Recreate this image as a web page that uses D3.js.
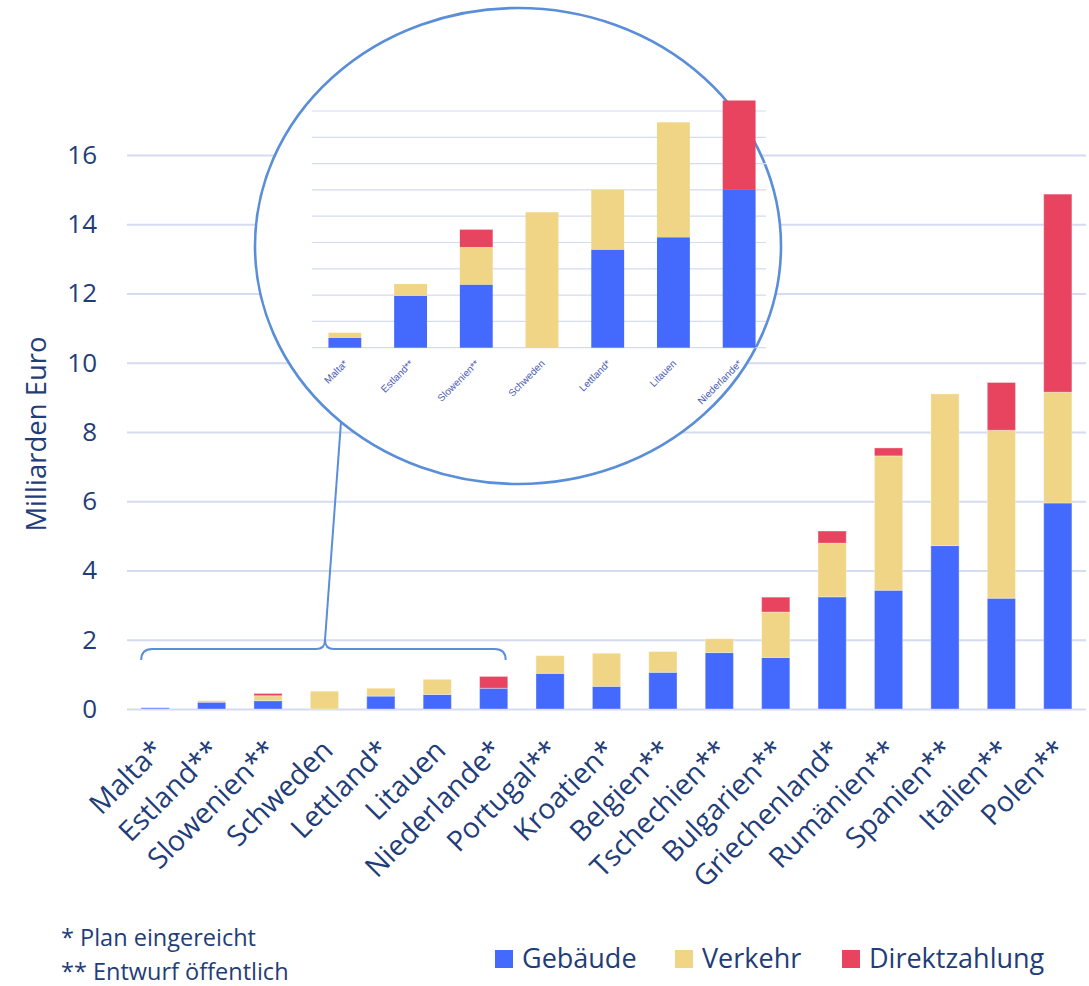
<!DOCTYPE html>
<html>
<head>
<meta charset="utf-8">
<script src="https://cdn.jsdelivr.net/npm/d3@7/dist/d3.min.js"></script>
<style>
  html, body { margin: 0; padding: 0; background: #ffffff; }
  svg { display: block; font-family: "Open Sans", "Noto Sans", sans-serif; }
</style>
</head>
<body>
<svg id="chart" width="1089" height="986"></svg>
<script>
// Klima-Sozialfonds: geplante Mittel je Mitgliedstaat (Milliarden Euro)
const categories = ["Malta*", "Estland**", "Slowenien**", "Schweden", "Lettland*", "Litauen",
  "Niederlande*", "Portugal**", "Kroatien*", "Belgien**", "Tschechien**", "Bulgarien**",
  "Griechenland*", "Rumänien**", "Spanien**", "Italien**", "Polen**"];
const gebaeude = [0.037, 0.197, 0.24, 0, 0.373, 0.42, 0.60, 1.03, 0.655, 1.06, 1.63, 1.49, 3.24, 3.43, 4.72, 3.20, 5.95];
const verkehr  = [0.02, 0.045, 0.143, 0.515, 0.227, 0.437, 0, 0.51, 0.955, 0.60, 0.40, 1.31, 1.55, 3.88, 4.38, 4.85, 3.20];
const direkt   = [0, 0, 0.066, 0, 0, 0, 0.34, 0, 0, 0, 0, 0.43, 0.35, 0.23, 0, 1.38, 5.72];

const seriesNames = ["Gebäude", "Verkehr", "Direktzahlung"];
const seriesColors = ["#4469fd", "#efd585", "#e8435f"];
const yTicks = [0, 2, 4, 6, 8, 10, 12, 14, 16];
const insetTicks = [0, 0.1, 0.2, 0.3, 0.4, 0.5, 0.6, 0.7, 0.8, 0.9];
const insetCount = 7; // the seven smallest funds, shown enlarged
const footnotes = ["* Plan eingereicht", "** Entwurf öffentlich"];
const yTitle = "Milliarden Euro";

const textColor = "#1f3d78";
const gridColor = "#d5dbf0";
const loupeColor = "#5a8ed8";
const mainFont = "Open Sans, Noto Sans, sans-serif";

const rows = categories.map((c, i) => ({
  cat: c, "Gebäude": gebaeude[i], "Verkehr": verkehr[i], "Direktzahlung": direkt[i]
}));
const stacked = d3.stack().keys(seriesNames)(rows);
const color = d3.scaleOrdinal().domain(seriesNames).range(seriesColors);

const svg = d3.select("#chart");

// ---------- main chart ----------
const x = d3.scaleBand().domain(categories).range([127, 1086]).paddingInner(0.5).paddingOuter(0.25);
const y = d3.scaleLinear().domain([0, 16]).range([709, 155]);

const yAxis = svg.append("g")
  .attr("transform", `translate(${x.range()[0]},0)`)
  .call(d3.axisLeft(y).tickValues(yTicks).tickSize(-(x.range()[1] - x.range()[0])).tickPadding(30).tickFormat(d3.format("d")));
yAxis.attr("font-family", mainFont);
yAxis.select(".domain").remove();
yAxis.selectAll(".tick line").attr("stroke", gridColor).attr("stroke-width", 2);
yAxis.selectAll(".tick text").attr("fill", textColor).attr("font-size", 26);

svg.append("text")
  .attr("transform", `translate(46,${(y(6) + y(10)) / 2 + 2}) rotate(-90)`)
  .attr("text-anchor", "middle")
  .attr("fill", textColor)
  .attr("font-size", 27.5)
  .text(yTitle);

svg.append("g").selectAll("g")
  .data(stacked).join("g")
  .attr("fill", d => color(d.key))
  .selectAll("rect")
  .data(d => d.filter(p => p[1] - p[0] > 0))
  .join("rect")
  .attr("x", d => x(d.data.cat))
  .attr("width", x.bandwidth())
  .attr("y", d => y(d[1]))
  .attr("height", d => y(d[0]) - y(d[1]))
  .attr("stroke", "#ffffff").attr("stroke-opacity", 0.35).attr("stroke-width", 1);

const xAxis = svg.append("g")
  .attr("transform", `translate(0,${y(0)})`)
  .call(d3.axisBottom(x).tickSize(0).tickPadding(0));
xAxis.attr("font-family", mainFont);
xAxis.select(".domain").remove();
xAxis.selectAll(".tick text")
  .attr("fill", textColor)
  .attr("font-size", 28.5)
  .attr("text-anchor", "end")
  .attr("y", 0).attr("dy", "0.35em")
  .attr("transform", "translate(3,36) rotate(-45)");

// ---------- bracket and connector ----------
const first = x(categories[0]) + x.bandwidth() / 2 - 14;
const last = x(categories[insetCount - 1]) + x.bandwidth() / 2 + 12;
const tipX = 325, tipY = 640, barY = 649, endY = 660, r = 9;
const bracket = d3.path();
bracket.moveTo(first, endY);
bracket.quadraticCurveTo(first, barY, first + r + 2, barY);
bracket.lineTo(tipX - r, barY);
bracket.quadraticCurveTo(tipX, barY, tipX, tipY);
bracket.quadraticCurveTo(tipX, barY, tipX + r, barY);
bracket.lineTo(last - r - 2, barY);
bracket.quadraticCurveTo(last, barY, last, endY);
svg.append("path").attr("d", bracket.toString())
  .attr("fill", "none").attr("stroke", loupeColor).attr("stroke-width", 2);

const ell = { cx: 518, cy: 246, rx: 263, ry: 238 };
const cX = 341;
const cY = ell.cy + ell.ry * Math.sqrt(1 - Math.pow((cX - ell.cx) / ell.rx, 2));
svg.append("line")
  .attr("x1", tipX).attr("y1", tipY).attr("x2", cX).attr("y2", cY)
  .attr("stroke", loupeColor).attr("stroke-width", 2);

svg.append("ellipse")
  .attr("cx", ell.cx).attr("cy", ell.cy).attr("rx", ell.rx).attr("ry", ell.ry)
  .attr("fill", "#ffffff").attr("stroke", loupeColor).attr("stroke-width", 2.6);

// ---------- enlarged inset ----------
const insetCats = categories.slice(0, insetCount);
const xi = d3.scaleBand().domain(insetCats).range([312, 772]).paddingInner(0.5).paddingOuter(0.25);
const yi = d3.scaleLinear().domain([0, 0.9]).range([347.7, 111]);

const inset = svg.append("g");
inset.append("g").selectAll("line")
  .data(insetTicks).join("line")
  .attr("x1", xi.range()[0]).attr("x2", xi.range()[1] - 6)
  .attr("y1", d => yi(d)).attr("y2", d => yi(d))
  .attr("stroke", gridColor).attr("stroke-width", 1.2);

inset.append("g").selectAll("g")
  .data(stacked).join("g")
  .attr("fill", d => color(d.key))
  .selectAll("rect")
  .data(d => d.filter(p => insetCats.includes(p.data.cat) && p[1] - p[0] > 0))
  .join("rect")
  .attr("x", d => xi(d.data.cat))
  .attr("width", xi.bandwidth())
  .attr("y", d => yi(d[1]))
  .attr("height", d => yi(d[0]) - yi(d[1]));

const xiAxis = inset.append("g")
  .attr("transform", `translate(0,${yi(0)})`)
  .call(d3.axisBottom(xi).tickSize(0).tickPadding(0));
xiAxis.select(".domain").remove();
xiAxis.selectAll(".tick text")
  .attr("fill", "#4a5cb8")
  .attr("font-size", 10)
  .attr("font-family", "Liberation Sans, Arial, sans-serif")
  .attr("text-anchor", "end")
  .attr("y", 0).attr("dy", "0.35em")
  .attr("transform", "translate(1,14) rotate(-45)");

// ---------- footnotes and legend ----------
svg.append("g").selectAll("text")
  .data(footnotes).join("text")
  .attr("x", 61)
  .attr("y", (d, i) => 946 + i * 33.5)
  .attr("fill", textColor)
  .attr("font-size", 23.5)
  .text(d => d);

const legendX = [495, 675, 842];
const legend = svg.append("g").selectAll("g")
  .data(seriesNames).join("g")
  .attr("transform", (d, i) => `translate(${legendX[i]},950)`);
legend.append("rect")
  .attr("width", 18).attr("height", 18)
  .attr("fill", d => color(d));
legend.append("text")
  .attr("x", 27).attr("y", 18)
  .attr("fill", textColor)
  .attr("font-size", 27)
  .text(d => d);
</script>
</body>
</html>
